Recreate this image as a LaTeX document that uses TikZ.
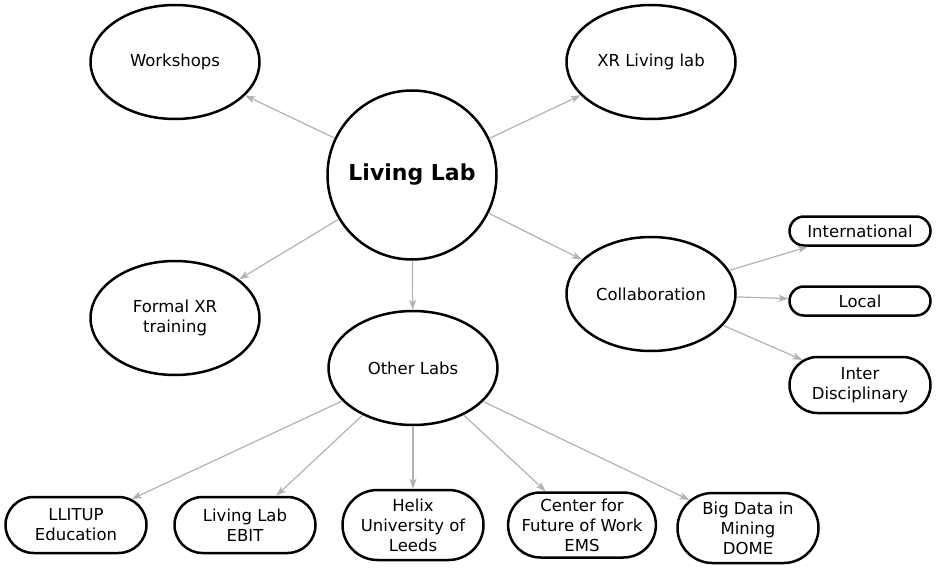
\documentclass[tikz,border=0pt]{standalone}
\usepackage{fontspec}
\setmainfont{DejaVu Sans}
\usetikzlibrary{arrows.meta,shapes.geometric,shapes.misc}
\definecolor{connc}{RGB}{178,178,178}
\begin{document}
\begin{tikzpicture}[x=1pt,y=-1pt,
  every node/.style={font=\fontsize{16.5}{20}\selectfont, align=center, inner sep=0pt},
  oval/.style={draw, ellipse, line width=2.5pt, minimum width=169pt, minimum height=114pt},
  pill/.style={draw, rounded rectangle, line width=2.5pt, minimum width=141pt, minimum height=#1},
  conn/.style={draw=connc, line width=1.2pt, -{Stealth[length=10pt,width=7pt,inset=2.5pt]}}]
\useasboundingbox (0,0) rectangle (940,575);
\node[draw, circle, line width=2.5pt, minimum size=169pt, font=\fontsize{22}{26}\selectfont\bfseries] (ll) at (412,175) {Living Lab};
\node[oval] (ws) at (175,62) {Workshops};
\node[oval] (xr) at (651,62) {XR Living lab};
\node[oval] (fx) at (175,318) {Formal XR\\training};
\node[oval] (col) at (651,294) {Collaboration};
\node[oval] (ol) at (413,368) {Other Labs};
\node[pill=29pt] (int) at (860,231) {International};
\node[pill=29pt] (loc) at (860,301) {Local};
\node[pill=56pt] (inter) at (860,385) {Inter\\Disciplinary};
\node[pill=56pt] (llitup) at (76,525) {LLITUP\\Education};
\node[pill=56pt] (ebit) at (245,525) {Living Lab\\EBIT};
\node[pill=70pt] (helix) at (413,525) {Helix\\University of\\Leeds};
\node[pill=65pt] (cfw) at (582,525) {Center for\\Future of Work\\EMS};
\node[pill=70pt] (bd) at (748,528) {Big Data in\\Mining\\DOME};
\draw[conn] (ll) -- (ws);
\draw[conn] (ll) -- (xr);
\draw[conn] (ll) -- (fx);
\draw[conn] (ll) -- (col);
\draw[conn] (ll) -- (ol);
\draw[conn] (col) -- (int);
\draw[conn] (col) -- (loc);
\draw[conn] (col) -- (inter);
\draw[conn] (ol) -- (llitup);
\draw[conn] (ol) -- (ebit);
\draw[conn] (ol) -- (helix);
\draw[conn] (ol) -- (cfw);
\draw[conn] (ol) -- (bd);
\end{tikzpicture}
\end{document}
